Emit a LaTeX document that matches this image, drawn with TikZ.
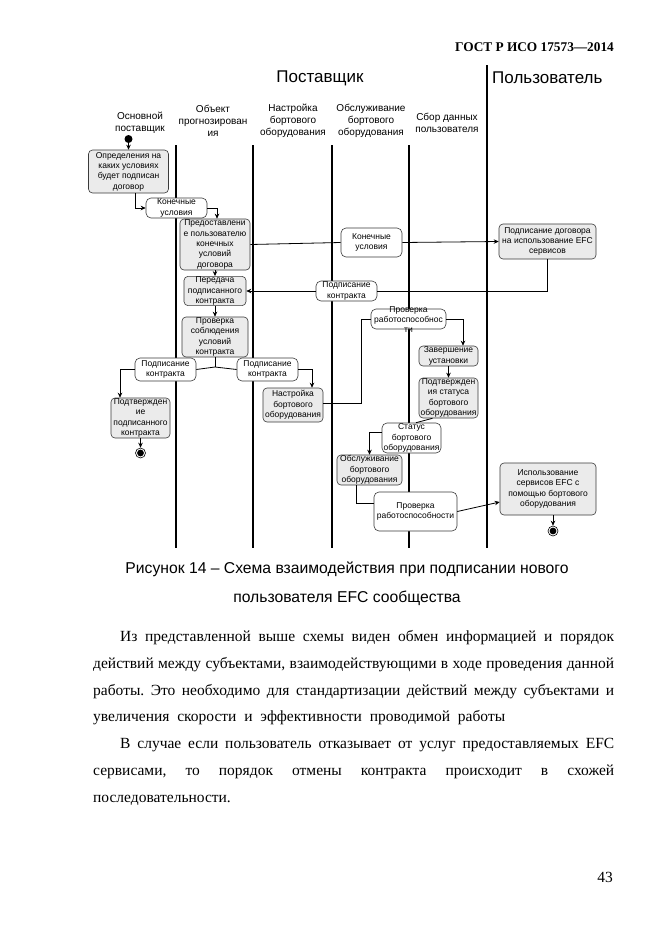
\documentclass[tikz,border=0pt]{standalone}
\usepackage{fontspec}
\usepackage{tikz}
\usetikzlibrary{arrows.meta,calc,positioning}
\setmainfont{Liberation Serif}
\newfontfamily\diagfont{Liberation Sans}
\definecolor{SchemeInk}{HTML}{3A3A3A}
\definecolor{SchemeGray}{HTML}{EBEBEB}
\newcommand{\boxfont}{\diagfont\fontsize{8.5}{10.3}\selectfont}
\newcommand{\lanefont}{\diagfont\fontsize{10}{12}\selectfont}
\newcommand{\headfont}{\diagfont\fontsize{17}{20}\selectfont}
\newcommand{\capfont}{\diagfont\fontsize{15.7}{18}\selectfont}
\newcommand{\bodyfont}{\fontsize{15.5}{18}\selectfont\frenchspacing}

\begin{document}
\begin{tikzpicture}[
      x=1pt,y=-1pt,
      act/.style={draw=SchemeInk,fill=SchemeGray,rounded corners=4pt,align=center,inner sep=0.5pt,font=\boxfont,line width=0.6pt},
      obj/.style={draw=SchemeInk,fill=white,rounded corners=5pt,align=center,inner sep=0.5pt,font=\boxfont,line width=0.6pt},
      lanetitle/.style={font=\lanefont,align=center,inner sep=0},
      lane/.style={line width=2.6pt},
      wire/.style={line width=0.8pt},
      arr/.style={-{Stealth[length=5pt,width=4.5pt]},line width=0.8pt},
      endring/.style={circle,draw,line width=0.6pt,fill=white,inner sep=0,minimum size=10pt},
      para/.style={anchor=base west,inner sep=0,font=\bodyfont}
    ]
      \useasboundingbox[fill=white] (0,0) rectangle (661,935);
      \node[anchor=base east,inner sep=0,font=\fontsize{13.3}{16}\selectfont\bfseries] (gost) at (614,51) {ГОСТ Р ИСО 17573—2014};
      \node[font=\headfont,inner sep=0] (supplier) at (320,78) {Поставщик};
      \node[font=\headfont,inner sep=0,anchor=west] (user) at (492,78) {Пользователь};
      \node[lanetitle] (t1) at (140,123) {Основной\\поставщик};
      \node[lanetitle] (t2) at (213,121) {Объект\\прогнозирован\\ия};
      \node[lanetitle] (t3) at (293,121) {Настройка\\бортового\\оборудования};
      \node[lanetitle] (t4) at (371,121) {Обслуживание\\бортового\\оборудования};
      \node[lanetitle] (t5) at (447,123) {Сбор данных\\пользователя};
      \foreach \lx in {176,253,332,409}
        \draw[lane] (\lx,145) -- (\lx,548);
      \draw[lane] (487,65) -- (487,548);

      \node[circle,fill=black,inner sep=0,minimum size=8pt] (start) at (128.5,139) {};
      \node[act,minimum width=80pt,minimum height=43pt] (terms) at (128.5,171.5) {Определения на\\каких условиях\\будет подписан\\договор};
      \node[obj,minimum width=61pt,minimum height=20pt] (final1) at (176.5,208) {Конечные\\условия};
      \node[act,minimum width=70pt,minimum height=51pt] (offer) at (215,244.5) {Предоставлени\\е пользователю\\конечных\\условий\\договора};
      \node[obj,minimum width=61pt,minimum height=29pt] (final2) at (371.5,242.5) {Конечные\\условия};
      \node[act,minimum width=97pt,minimum height=35pt] (sign) at (547.5,241.5) {Подписание договора\\на использование EFC\\сервисов};
      \node[obj,minimum width=61pt,minimum height=20pt] (signed1) at (346.5,291) {Подписание\\контракта};
      \node[act,minimum width=62pt,minimum height=28pt] (transfer) at (215,291) {Передача\\подписанного\\контракта};
      \node[act,minimum width=66pt,minimum height=40pt] (verify) at (215,337) {Проверка\\соблюдения\\условий\\контракта};
      \coordinate (fork) at (215,367);
      \node[obj,minimum width=61pt,minimum height=23pt] (signedL) at (165.5,369.5) {Подписание\\контракта};
      \node[obj,minimum width=61pt,minimum height=23pt] (signedR) at (267.5,369.5) {Подписание\\контракта};
      \node[act,minimum width=59pt,minimum height=40pt] (confirm) at (140.5,418) {Подтвержден\\ие\\подписанного\\контракта};
      \node[endring] (end1) at (140.5,453) {};
      \fill (end1.center) circle (3.4);
      \node[act,minimum width=60pt,minimum height=34pt] (setup) at (293,405) {Настройка\\бортового\\оборудования};
      \node[obj,minimum width=75pt,minimum height=20pt] (check1) at (408.5,319) {};
      \node[font=\boxfont,align=center,inner sep=0] (check1txt) at (408.5,319.5) {Проверка\\работоспособнос\\ти};
      \node[act,minimum width=59pt,minimum height=20pt] (finish) at (448.5,356) {Завершение\\установки};
      \node[act,minimum width=59pt,minimum height=40pt] (state) at (448.5,398) {Подтвержден\\ия статуса\\бортового\\оборудования};
      \node[obj,minimum width=59pt,minimum height=30pt] (status) at (411.5,438) {Статус\\бортового\\оборудования};
      \node[act,minimum width=65pt,minimum height=30pt] (service) at (369.5,470) {Обслуживание\\бортового\\оборудования};
      \node[obj,minimum width=83pt,minimum height=39pt] (check2) at (415.5,511.5) {Проверка\\работоспособности};
      \node[act,minimum width=96pt,minimum height=52pt] (use) at (548,489) {Использование\\сервисов EFC с\\помощью бортового\\оборудования};
      \node[endring] (end2) at (553,531) {};
      \fill (end2.center) circle (3.4);

      \draw[arr] (start) -- (terms);
      \draw[arr] ([xshift=6.5pt]terms.south) |- (final1.west);
      \draw[arr] (final1.east) -| ([xshift=2pt]offer.north);
      \draw[wire] (offer.east) -- (final2.west);
      \draw[arr] (final2.east) -- (sign.west);
      \draw[wire] (sign.south) |- (signed1.east);
      \draw[arr] (signed1.west) -- (transfer.east);
      \draw[arr] (offer.south) -- (transfer.north);
      \draw[arr] (transfer.south) -- (verify.north);
      \draw[wire] (verify.south) -- (fork);
      \draw[wire] (fork) -- (signedL.east);
      \draw[wire] (fork) -- (signedR.west);
      \draw[arr] (signedL.west) -| ([xshift=-20.5pt]confirm.north);
      \draw[arr] (confirm.south) -- (end1.north);
      \draw[arr] (signedR.east) -| ([xshift=19pt]setup.north);
      \draw[wire] ([yshift=2pt]setup.east) -- ++(38,0) |- (check1.west);
      \draw[arr] (check1.east) -| ([xshift=14.5pt]finish.north);
      \draw[arr] (finish.south) -- (state.north);
      \draw[wire] ([xshift=-16pt]state.south) -- ([xshift=4.5pt]status.north);
      \draw[arr] ([yshift=6pt]status.west) -| (service.north);
      \draw[wire] ([xshift=-13.5pt]service.south) |- ([yshift=8.5pt]check2.west);
      \draw[arr] (check2.east) -- ([yshift=-13pt]use.west);
      \draw[arr] ([xshift=5pt]use.south) -- (end2.north);

      \node[font=\capfont,inner sep=0,anchor=base] (cap1) at (347,573) {Рисунок 14 – Схема взаимодействия при подписании нового};
      \node[font=\capfont,inner sep=0,anchor=base] (cap2) at (347,602) {пользователя EFC сообщества};
      \node[para] (l1) at (120,641) {\hbox to 494pt{Из представленной выше схемы виден обмен информацией и порядок}};
      \node[para] (l2) at (93,668) {\hbox to 521pt{действий между субъектами, взаимодействующими в ходе проведения данной}};
      \node[para] (l3) at (93,695) {\hbox to 521pt{работы. Это необходимо для стандартизации действий между субъектами и}};
      \node[para] (l4) at (93,721.5) {\hbox to 412pt{увеличения скорости и эффективности проводимой работы}};
      \node[para] (l5) at (120,748) {\hbox to 494pt{В случае если пользователь отказывает от услуг предоставляемых EFC}};
      \node[para] (l6) at (93,775) {\hbox to 521pt{сервисами, то порядок отмены контракта происходит в схожей}};
      \node[para] (l7) at (93,802) {последовательности.};
      \node[anchor=base east,inner sep=0,font=\bodyfont] (page) at (613,882) {43};
    \end{tikzpicture}
\end{document}
